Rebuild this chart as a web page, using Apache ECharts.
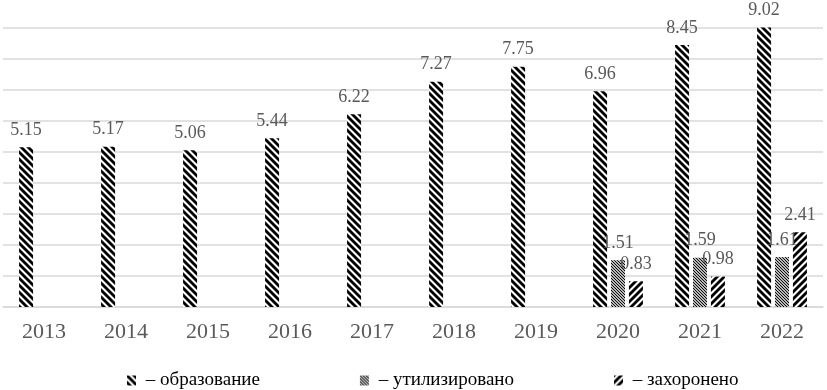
<!DOCTYPE html>
<html>
<head>
<meta charset="utf-8">
<style>
  html, body { margin: 0; padding: 0; background: #fff; }
  #chart { width: 827px; height: 390px; }
</style>
<script src="https://cdn.jsdelivr.net/npm/echarts@6/dist/echarts.min.js"></script>
</head>
<body>
<div id="chart"></div>
<script>
// данные
const years = ["2013", "2014", "2015", "2016", "2017", "2018", "2019", "2020", "2021", "2022"];
const formed = [5.15, 5.17, 5.06, 5.44, 6.22, 7.27, 7.75, 6.96, 8.45, 9.02];
const utilized = [null, null, null, null, null, null, null, 1.51, 1.59, 1.61];
const buried = [null, null, null, null, null, null, null, 0.83, 0.98, 2.41];
const seriesNames = ["образование", "утилизировано", "захоронено"];

const FONT = "'Liberation Serif', 'Times New Roman', serif";
const GREY = "#595959";

// штриховка: dir = 1 -> "\", dir = -1 -> "/"
function hatch(size, width, dir) {
  const c = document.createElement("canvas");
  c.width = size;
  c.height = size;
  const ctx = c.getContext("2d");
  ctx.fillStyle = "#fff";
  ctx.fillRect(0, 0, size, size);
  ctx.strokeStyle = "#000";
  ctx.lineWidth = width;
  for (let k = -size; k <= size; k += size) {
    ctx.beginPath();
    if (dir > 0) {
      ctx.moveTo(k - 1, -1);
      ctx.lineTo(k + size + 1, size + 1);
    } else {
      ctx.moveTo(k - 1, size + 1);
      ctx.lineTo(k + size + 1, -1);
    }
    ctx.stroke();
  }
  return { image: c, repeat: "repeat" };
}

const fills = [hatch(7, 2.8, 1), hatch(3, 1.1, 1), hatch(7, 2.8, -1)];

function barSeries(i, values) {
  return {
    name: seriesNames[i],
    type: "bar",
    data: values,
    barWidth: 14,
    barGap: "28%",
    clip: false,
    itemStyle: { color: fills[i] },
    label: {
      show: true,
      position: "top",
      distance: 8,
      color: GREY,
      fontFamily: FONT,
      fontSize: 18,
    },
  };
}

const chart = echarts.init(document.getElementById("chart"), null, { renderer: "canvas" });
chart.setOption({
  animation: false,
  grid: { left: 3, right: 4, top: 28, bottom: 83, containLabel: false },
  legend: {
    data: seriesNames,
    left: 122,
    top: 366,
    itemWidth: 9,
    itemHeight: 10,
    itemGap: 100,
    icon: "rect",
    formatter: " – {name}",
    textStyle: { color: "#000", fontFamily: FONT, fontSize: 19 },
  },
  xAxis: {
    type: "category",
    data: years,
    axisLine: { lineStyle: { color: "#d9d9d9", width: 1.5 } },
    axisTick: { show: false },
    axisLabel: { color: GREY, fontFamily: FONT, fontSize: 22, margin: 14 },
  },
  yAxis: {
    type: "value",
    min: 0,
    max: 9,
    interval: 1,
    axisLabel: { show: false },
    axisLine: { show: false },
    axisTick: { show: false },
    splitLine: { lineStyle: { color: "#d9d9d9", width: 1.5 } },
  },
  series: [barSeries(0, formed), barSeries(1, utilized), barSeries(2, buried)],
});
</script>
</body>
</html>
